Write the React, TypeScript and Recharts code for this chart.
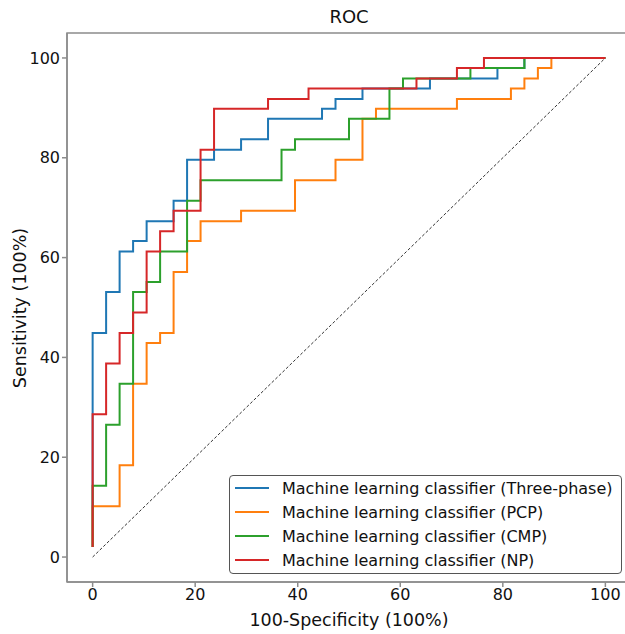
import React from 'react';
import { LineChart, Line, XAxis, YAxis, ReferenceArea } from 'recharts';

// ROC points (100-specificity, sensitivity), step corners
const threePhaseFpr = [0, 0, 2.63, 5.26, 7.89, 10.53, 15.79, 18.42, 23.68, 28.95, 34.21, 44.74, 47.37, 52.63, 65.79, 78.95, 84.21, 100];
const threePhaseTpr = [2.0, 44.9, 53.1, 61.2, 63.3, 67.3, 71.4, 79.6, 81.6, 83.7, 87.8, 89.8, 91.8, 93.9, 95.9, 98.0, 100, 100];

const pcpFpr = [0, 0, 5.26, 7.89, 10.53, 13.16, 15.79, 18.42, 21.05, 28.95, 39.47, 47.37, 52.63, 55.26, 71.05, 81.58, 84.21, 86.84, 89.47, 100];
const pcpTpr = [2.0, 10.2, 18.4, 34.7, 42.9, 44.9, 57.1, 63.3, 67.3, 69.4, 75.5, 79.6, 87.8, 89.8, 91.8, 93.9, 95.9, 98.0, 100, 100];

const cmpFpr = [0, 0, 2.63, 5.26, 7.89, 10.53, 13.16, 18.42, 21.05, 36.84, 39.47, 50.0, 57.89, 60.53, 73.68, 84.21, 100];
const cmpTpr = [2.0, 14.3, 26.5, 34.7, 53.1, 55.1, 61.2, 71.4, 75.5, 81.6, 83.7, 87.8, 93.9, 95.9, 98.0, 100, 100];

const npFpr = [0, 0, 2.63, 5.26, 7.89, 10.53, 13.16, 15.79, 21.05, 23.68, 34.21, 42.11, 63.16, 71.05, 76.32, 100];
const npTpr = [2.0, 28.6, 38.8, 44.9, 49.0, 61.2, 65.3, 69.4, 81.6, 89.8, 91.8, 93.9, 95.9, 98.0, 100, 100];

const chanceX = [0, 100];
const chanceY = [0, 100];

const ticks = [0, 20, 40, 60, 80, 100];

const seriesNames = [
  'Machine learning classifier (Three-phase)',
  'Machine learning classifier (PCP)',
  'Machine learning classifier (CMP)',
  'Machine learning classifier (NP)',
];
const COLORS = ['#1f77b4', '#ff7f0e', '#2ca02c', '#d62728'];

const toPoints = (xs: number[], ys: number[]) => xs.map((x, i) => ({ x, y: ys[i] }));

const series = [
  toPoints(threePhaseFpr, threePhaseTpr),
  toPoints(pcpFpr, pcpTpr),
  toPoints(cmpFpr, cmpTpr),
  toPoints(npFpr, npTpr),
];

const FONT = '"DejaVu Sans", sans-serif';
const tickStyle = { fill: '#111', fontSize: 16, fontFamily: FONT };

const App: React.FC = () => {
  return (
    <div style={{ position: 'absolute', left: 0, top: 0, width: 625, height: 634, overflow: 'hidden', background: '#fff', fontFamily: FONT }}>
      <LineChart width={640} height={634} margin={{ top: 33, right: 9, left: 0, bottom: 22 }}>
        <XAxis
          type="number"
          dataKey="x"
          domain={[-5, 105]}
          ticks={ticks}
          allowDataOverflow
          height={30}
          tickSize={5}
          tick={tickStyle}
          stroke="#8c8c8c"
          strokeWidth={1.5}
        />
        <YAxis
          type="number"
          dataKey="y"
          domain={[-5, 105]}
          ticks={ticks}
          allowDataOverflow
          width={67}
          tickSize={5}
          tick={tickStyle}
          stroke="#8c8c8c"
          strokeWidth={1.5}
        />
        <ReferenceArea x1={-5} x2={105} y1={-5} y2={105} fill="none" stroke="#8c8c8c" strokeWidth={1.5} />
        <Line
          data={toPoints(chanceX, chanceY)}
          dataKey="y"
          type="linear"
          stroke="#333"
          strokeWidth={1}
          strokeDasharray="3 2"
          dot={false}
          isAnimationActive={false}
        />
        {series.map((pts, i) => (
          <Line
            key={seriesNames[i]}
            data={pts}
            dataKey="y"
            name={seriesNames[i]}
            type="stepAfter"
            stroke={COLORS[i]}
            strokeWidth={2}
            dot={false}
            isAnimationActive={false}
          />
        ))}
      </LineChart>

      {/* title and axis labels */}
      <div style={{ position: 'absolute', left: 67, width: 564, top: 6, textAlign: 'center', fontSize: 18, color: '#111' }}>ROC</div>
      <div style={{ position: 'absolute', left: 67, width: 564, top: 610, textAlign: 'center', fontSize: 17.5, color: '#111' }}>100-Specificity (100%)</div>
      <div
        style={{
          position: 'absolute', left: 20, top: 308, fontSize: 17.5, color: '#111', whiteSpace: 'nowrap',
          transform: 'translate(-50%, -50%) rotate(-90deg)',
        }}
      >
        Sensitivity (100%)
      </div>

      {/* legend */}
      <div
        style={{
          position: 'absolute', left: 229, top: 475, width: 393, height: 99, border: '1px solid #555',
          borderRadius: 4, background: 'rgba(255,255,255,0.85)', boxSizing: 'border-box',
        }}
      >
        {seriesNames.map((name, i) => (
          <div key={name} style={{ position: 'absolute', left: 5, top: 1 + i * 24, height: 22, display: 'flex', alignItems: 'center' }}>
            <span style={{ display: 'inline-block', width: 34, height: 2, background: COLORS[i], marginRight: 13 }} />
            <span style={{ fontSize: 16, color: '#111', whiteSpace: 'nowrap' }}>{name}</span>
          </div>
        ))}
      </div>
    </div>
  );
};

export default App;
